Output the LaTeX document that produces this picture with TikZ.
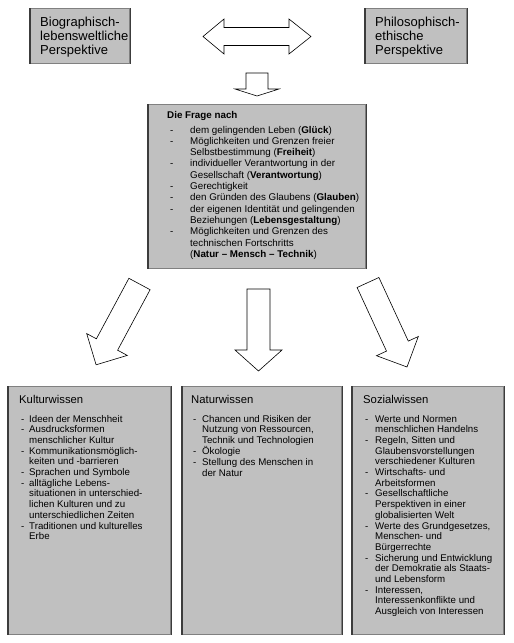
\documentclass[tikz,border=0pt]{standalone}
\usepackage{fontspec}
\setmainfont{Liberation Sans}
\definecolor{boxfill}{RGB}{192,192,192}
\definecolor{boxline}{RGB}{128,128,128}
\definecolor{boxside}{RGB}{60,60,60}
\newlength\dashind
\newcommand\dsh{\makebox[\dashind][l]{-}}
\newenvironment{dlist}[1]{\setlength\dashind{#1}\begin{tabular}[t]{@{}l@{}l@{}}}{\end{tabular}}
\newcommand\panelsides[1]{\draw[sideline] (#1.north west) -- (#1.south west) (#1.north east) -- (#1.south east);}
\tikzset{
  panel/.style={draw=boxline, fill=boxfill, line width=1.1pt, inner sep=0pt, anchor=north west},
  sideline/.style={draw=boxside, line width=1.1pt},
  blockarrow/.style={draw=black, fill=white, line width=0.6pt, line join=miter},
  toptext/.style={anchor=base west, inner sep=0pt, font=\fontsize{13}{14}\selectfont},
  titletext/.style={anchor=base west, inner sep=0pt, font=\fontsize{11.3}{13}\selectfont},
  listtext/.style={anchor=base west, inner sep=0pt, font=\fontsize{9.7}{10.7}\selectfont},
  fragetext/.style={anchor=base west, inner sep=0pt, font=\fontsize{9.8}{11.3}\selectfont}
}
\begin{document}
\begin{tikzpicture}[x=1pt,y=-1pt]
\useasboundingbox (0,0) rectangle (514,643);

% top boxes
\node[panel, minimum width=99pt, minimum height=55pt] (bio) at (30,8) {};
\node[panel, minimum width=101pt, minimum height=55pt] (phil) at (365,8) {};
\panelsides{bio}
\panelsides{phil}
\node[toptext] (biot) at (40,26) {\begin{tabular}[t]{@{}l@{}}Biographisch-\\lebensweltliche\\Perspektive\end{tabular}};
\node[toptext] (philt) at (375,26) {\begin{tabular}[t]{@{}l@{}}Philosophisch-\\ethische\\Perspektive\end{tabular}};

% double arrow
\draw[blockarrow] (203,36.5) -- (224,19) -- (224,27.5) -- (289,27.5) -- (289,19) -- (311,36.5)
  -- (289,54) -- (289,45.5) -- (224,45.5) -- (224,54) -- cycle;

% small down arrow
\draw[blockarrow] (246,73) -- (268,73) -- (268,89) -- (279,89) -- (257,96) -- (235,89) -- (246,89) -- cycle;

% central box
\node[panel, minimum width=217pt, minimum height=164pt] (frage) at (148,104) {};
\panelsides{frage}
\node[anchor=base west, inner sep=0pt, font=\fontsize{9.8}{11.3}\selectfont\bfseries] (fraget) at (167,118) {Die Frage nach};
\node[fragetext] (fragel) at (170,133) {\begin{dlist}{20pt}
\dsh & dem gelingenden Leben (\textbf{Glück})\\
\dsh & Möglichkeiten und Grenzen freier\\
     & Selbstbestimmung (\textbf{Freiheit})\\
\dsh & individueller Verantwortung in der\\
     & Gesellschaft (\textbf{Verantwortung})\\
\dsh & Gerechtigkeit\\
\dsh & den Gründen des Glaubens (\textbf{Glauben})\\
\dsh & der eigenen Identität und gelingenden\\
     & Beziehungen (\textbf{Lebensgestaltung})\\
\dsh & Möglichkeiten und Grenzen des\\
     & technischen Fortschritts\\
     & (\textbf{Natur – Mensch – Technik})
\end{dlist}};

% three arrows
\draw[blockarrow] (128.9,278.3) -- (150.1,289.7) -- (117.6,350.2) -- (127.3,355.4) -- (96.1,364.8)
  -- (86.7,333.6) -- (96.4,338.8) -- cycle;
\draw[blockarrow] (247,289) -- (270,289) -- (270,350) -- (282,350) -- (258.5,371) -- (235,350) -- (247,350) -- cycle;
\draw[blockarrow] (357.1,287.5) -- (378.9,277.5) -- (408.3,341.1) -- (418.3,336.5) -- (407,367)
  -- (376.5,355.7) -- (386.5,351.1) -- cycle;

% bottom boxes
\node[panel, minimum width=162pt, minimum height=248pt] (kultur) at (8,386) {};
\node[panel, minimum width=159pt, minimum height=248pt] (natur) at (182,386) {};
\node[panel, minimum width=151pt, minimum height=248pt] (sozial) at (352,386) {};
\panelsides{kultur}
\panelsides{natur}
\panelsides{sozial}

\node[titletext] (kulturt) at (19,403) {Kulturwissen};
\node[titletext] (naturt) at (191,403) {Naturwissen};
\node[titletext] (sozialt) at (363,403) {Sozialwissen};

\node[listtext] (kulturl) at (21,422) {\begin{dlist}{8pt}
\dsh & Ideen der Menschheit\\
\dsh & Ausdrucksformen\\
     & menschlicher Kultur\\
\dsh & Kommunikationsmöglich-\\
     & keiten und -barrieren\\
\dsh & Sprachen und Symbole\\
\dsh & alltägliche Lebens-\\
     & situationen in unterschied-\\
     & lichen Kulturen und zu\\
     & unterschiedlichen Zeiten\\
\dsh & Traditionen und kulturelles\\
     & Erbe
\end{dlist}};

\node[listtext] (naturl) at (193,422) {\begin{dlist}{9pt}
\dsh & Chancen und Risiken der\\
     & Nutzung von Ressourcen,\\
     & Technik und Technologien\\
\dsh & Ökologie\\
\dsh & Stellung des Menschen in\\
     & der Natur
\end{dlist}};

\node[listtext] (soziall) at (365,422) {\begin{dlist}{10pt}
\dsh & Werte und Normen\\
     & menschlichen Handelns\\
\dsh & Regeln, Sitten und\\
     & Glaubensvorstellungen\\
     & verschiedener Kulturen\\
\dsh & Wirtschafts- und\\
     & Arbeitsformen\\
\dsh & Gesellschaftliche\\
     & Perspektiven in einer\\
     & globalisierten Welt\\
\dsh & Werte des Grundgesetzes,\\
     & Menschen- und\\
     & Bürgerrechte\\
\dsh & Sicherung und Entwicklung\\
     & der Demokratie als Staats-\\
     & und Lebensform\\
\dsh & Interessen,\\
     & Interessenkonflikte und\\
     & Ausgleich von Interessen
\end{dlist}};
\end{tikzpicture}
\end{document}
